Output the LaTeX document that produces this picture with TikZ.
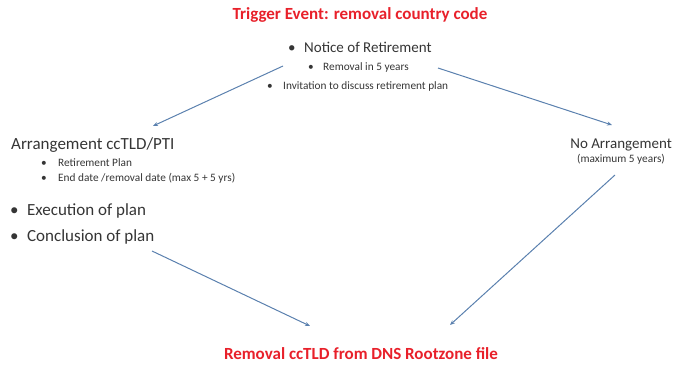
\documentclass[tikz,border=0pt]{standalone}
\usepackage{fontspec}
\setmainfont{Carlito}
\usetikzlibrary{arrows.meta}
\definecolor{txt}{HTML}{353535}
\definecolor{redt}{HTML}{E8202A}
\definecolor{arr}{HTML}{5A80AE}
\newcommand{\bul}[1]{\makebox[#1][l]{•}}
\tikzset{
  title/.style={text=redt, font=\bfseries\fontsize{17}{19}\selectfont, inner sep=0pt},
  big/.style={text=txt, font=\fontsize{17}{19}\selectfont, inner sep=0pt},
  mid/.style={text=txt, font=\fontsize{15}{17}\selectfont, inner sep=0pt},
  small/.style={text=txt, font=\fontsize{11.3}{13}\selectfont, inner sep=0pt},
  flow/.style={draw=arr, line width=1pt, -{Stealth[length=5pt,width=4pt]}},
}
\begin{document}
\begin{tikzpicture}[x=1pt,y=-1pt]
\useasboundingbox (0,0) rectangle (673,367);
\node[title] (trig) at (360,15) {Trigger Event: removal country code};
\node[mid, anchor=west] (notice) at (288,47) {\bul{16pt}Notice of Retirement};
\node[small, anchor=west] (rem5) at (308,67) {\bul{15pt}Removal in 5 years};
\node[small, anchor=west] (invit) at (267,86) {\bul{16pt}Invitation to discuss retirement plan};
\coordinate (ls) at (283,66);
\coordinate (le) at (153,126);
\coordinate (rs) at (438,68);
\coordinate (re) at (612,125);
\draw[flow] (ls) -- (le);
\draw[flow] (rs) -- (re);
\node[big, anchor=west] (arr) at (11,145) {Arrangement ccTLD/PTI};
\node[small, anchor=west] (plan) at (41,163) {\bul{17pt}Retirement Plan};
\node[small, anchor=west] (endd) at (41,178) {\bul{17pt}End date /removal date (max 5 + 5 yrs)};
\node[big, anchor=west] (exec) at (10,211) {\bul{17pt}Execution of plan};
\node[big, anchor=west] (concl) at (10,237) {\bul{17pt}Conclusion of plan};
\node[mid, anchor=east] (noarr) at (672,145) {No Arrangement};
\node[small] (maxi) at (621,159) {(maximum 5 years)};
\coordinate (bls) at (152,251);
\coordinate (ble) at (310,326);
\coordinate (brs) at (615,175);
\coordinate (bre) at (450,325);
\draw[flow] (bls) -- (ble);
\draw[flow] (brs) -- (bre);
\node[title] (remov) at (361,354) {Removal ccTLD from DNS Rootzone file};
\end{tikzpicture}
\end{document}
